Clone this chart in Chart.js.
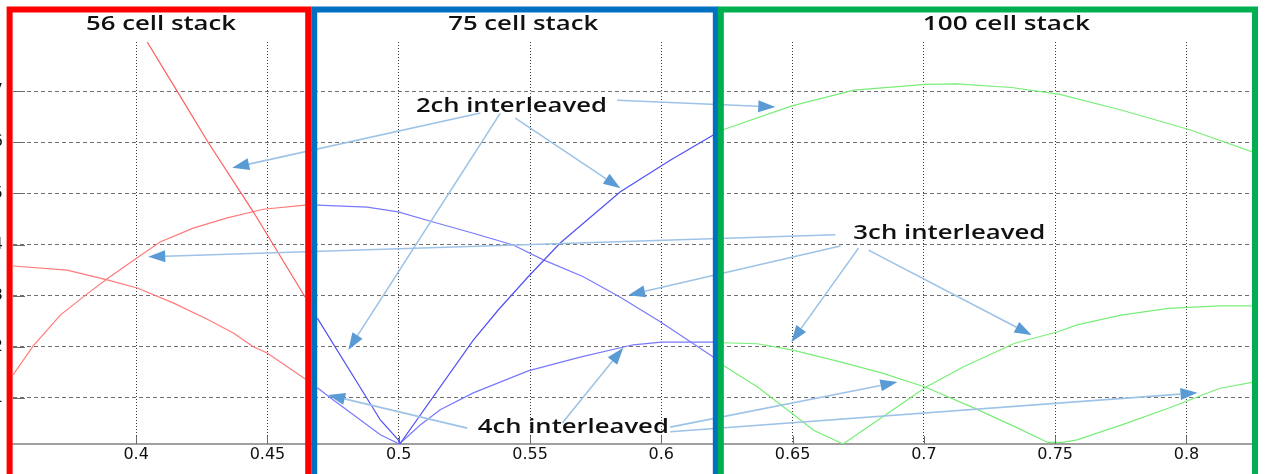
<!DOCTYPE html>
<html>
<head>
<meta charset="utf-8">
<script src="https://cdn.jsdelivr.net/npm/chart.js@4.4.1/dist/chart.umd.min.js"></script>
<style>
  html, body { margin: 0; padding: 0; background: #fff; }
  #wrap { width: 1266px; height: 474px; }
</style>
</head>
<body>
<div id="wrap"><canvas id="grafica" width="1266" height="474"></canvas></div>
<script>
// Ejes
const xMin = 0.3531, xMax = 0.8261;
const yMin = 0.1, yMax = 7.96;
const xTicks = [0.4, 0.45, 0.5, 0.55, 0.6, 0.65, 0.7, 0.75, 0.8];
const xTickLabels = ['0.4', '0.45', '0.5', '0.55', '0.6', '0.65', '0.7', '0.75', '0.8'];
const yTicks = [1, 2, 3, 4, 5, 6, 7];
const yTickLabels = ['1', '2', '3', '4', '5', '6', '7'];

// 56 cell stack
const red2chX = [0.4042, 0.4156, 0.4274, 0.4446, 0.4644];
const red2chY = [7.96, 7.0, 6.0, 4.64, 2.97];
const red3chX = [0.3531, 0.3608, 0.3711, 0.3817, 0.3890, 0.4004, 0.4091, 0.4217, 0.4347, 0.4484, 0.4644];
const red3chY = [1.45, 2.02, 2.62, 3.05, 3.33, 3.74, 4.05, 4.32, 4.52, 4.69, 4.77];
const red4chX = [0.3531, 0.3737, 0.3890, 0.4004, 0.4141, 0.4271, 0.4370, 0.4446, 0.4499, 0.4644];
const red4chY = [3.58, 3.50, 3.31, 3.15, 2.86, 2.54, 2.27, 2.0, 1.88, 1.37];

// 75 cell stack
const blue2chX = [0.4690, 0.4930, 0.4998, 0.5004, 0.5284, 0.5379, 0.5493, 0.5615, 0.5844, 0.6034, 0.6198];
const blue2chY = [2.56, 0.57, 0.18, 0.10, 2.13, 2.72, 3.37, 4.03, 5.03, 5.65, 6.14];
const blue3chX = [0.4690, 0.4880, 0.4998, 0.5131, 0.5284, 0.5436, 0.5551, 0.5703, 0.5844, 0.5996, 0.6198];
const blue3chY = [4.77, 4.73, 4.64, 4.44, 4.22, 3.99, 3.70, 3.37, 2.97, 2.49, 1.80];
const blue4chX = [0.4690, 0.4751, 0.4930, 0.5002, 0.5082, 0.5158, 0.5284, 0.5493, 0.5691, 0.5893, 0.6000, 0.6198];
const blue4chY = [1.20, 0.96, 0.28, 0.10, 0.47, 0.77, 1.10, 1.53, 1.80, 2.04, 2.09, 2.09];

// 100 cell stack
const green2chX = [0.6232, 0.6497, 0.6734, 0.7007, 0.7124, 0.7333, 0.7514, 0.7751, 0.8015, 0.8273];
const green2chY = [6.24, 6.71, 7.02, 7.13, 7.14, 7.07, 6.94, 6.63, 6.24, 5.77];
const green3chX = [0.6232, 0.6365, 0.6497, 0.6580, 0.6692, 0.6845, 0.7007, 0.7151, 0.7346, 0.7514, 0.7583, 0.7751, 0.7931, 0.8127, 0.8300];
const green3chY = [1.65, 1.22, 0.70, 0.37, 0.10, 0.64, 1.21, 1.61, 2.07, 2.30, 2.43, 2.62, 2.75, 2.80, 2.80];
const green4chX = [0.6232, 0.6365, 0.6497, 0.6678, 0.6845, 0.7007, 0.7179, 0.7346, 0.7472, 0.7528, 0.7583, 0.7751, 0.7931, 0.8127, 0.8300];
const green4chY = [2.08, 2.06, 1.94, 1.71, 1.48, 1.21, 0.83, 0.44, 0.13, 0.13, 0.18, 0.47, 0.80, 1.19, 1.35];

// Marcos de cada stack (en unidades del eje x)
const paneles = [
  { x0: 0.35181, x1: 0.46552, color: '#ff0000', titulo: '56 cell stack', tx: 0.4095, ancho: 150 },
  { x0: 0.46781, x1: 0.62076, color: '#0070c0', titulo: '75 cell stack', tx: 0.5474, ancho: 150 },
  { x0: 0.62267, x1: 0.82610, color: '#00b050', titulo: '100 cell stack', tx: 0.7314, ancho: 167 }
];

// Textos y flechas de anotacion (unidades de datos)
const notas = [
  { texto: '2ch interleaved', x: 0.5429, y: 6.59, ancho: 191 },
  { texto: '3ch interleaved', x: 0.7097, y: 4.11, ancho: 192 },
  { texto: '4ch interleaved', x: 0.5665, y: 0.31, ancho: 191 }
];
const flechas = [
  [0.5311, 6.57, 0.4366, 5.50],
  [0.5387, 6.57, 0.4808, 1.94],
  [0.5444, 6.47, 0.5844, 5.10],
  [0.5832, 6.82, 0.6434, 6.69],
  [0.6663, 4.19, 0.4046, 3.76],
  [0.6682, 3.97, 0.5874, 3.01],
  [0.6751, 3.93, 0.6495, 2.09],
  [0.6789, 3.89, 0.7410, 2.23],
  [0.5261, 0.41, 0.4731, 1.06],
  [0.5623, 0.51, 0.5855, 1.98],
  [0.6034, 0.43, 0.6899, 1.31],
  [0.6034, 0.34, 0.8042, 1.10]
];

const pts = (xs, ys) => xs.map((x, i) => ({ x: x, y: ys[i] }));
const serie = (label, xs, ys, color) => ({
  label: label,
  data: pts(xs, ys),
  borderColor: color,
  borderWidth: 1.2,
  pointRadius: 0,
  fill: false,
  tension: 0
});

function flecha(ctx, x1, y1, x2, y2) {
  const ang = Math.atan2(y2 - y1, x2 - x1);
  const len = 17, half = 6;
  const bx = x2 - len * Math.cos(ang), by = y2 - len * Math.sin(ang);
  ctx.strokeStyle = '#9dc3e6';
  ctx.lineWidth = 1.6;
  ctx.beginPath(); ctx.moveTo(x1, y1); ctx.lineTo(bx, by); ctx.stroke();
  ctx.fillStyle = '#5b9bd5';
  ctx.beginPath();
  ctx.moveTo(x2, y2);
  ctx.lineTo(bx - half * Math.sin(ang), by + half * Math.cos(ang));
  ctx.lineTo(bx + half * Math.sin(ang), by - half * Math.cos(ang));
  ctx.closePath(); ctx.fill();
}

// texto estirado en horizontal como en la imagen original
function texto(ctx, str, cx, by, font, ancho) {
  ctx.save();
  ctx.font = font;
  const w = ctx.measureText(str).width;
  ctx.translate(cx, by);
  ctx.scale(ancho / w, 1);
  ctx.textAlign = 'center';
  ctx.textBaseline = 'alphabetic';
  ctx.fillStyle = '#111';
  ctx.fillText(str, 0, 0);
  ctx.restore();
}

const decoraciones = {
  id: 'decoraciones',
  afterDatasetsDraw(chart) {
    const { ctx, chartArea: a, scales: { x, y } } = chart;
    ctx.save();
    // marcas solidas de los ejes hacia dentro
    ctx.strokeStyle = '#6a6a6a';
    ctx.lineWidth = 1;
    yTicks.forEach(v => {
      const py = Math.round(y.getPixelForValue(v)) + 0.5;
      ctx.beginPath(); ctx.moveTo(a.left, py); ctx.lineTo(a.left + 12, py); ctx.stroke();
    });
    xTicks.forEach(v => {
      const px = Math.round(x.getPixelForValue(v)) + 0.5;
      ctx.beginPath(); ctx.moveTo(px, a.bottom); ctx.lineTo(px, a.bottom - 8); ctx.stroke();
    });
    flechas.forEach(f => flecha(ctx, x.getPixelForValue(f[0]), y.getPixelForValue(f[1]),
      x.getPixelForValue(f[2]), y.getPixelForValue(f[3])));
    notas.forEach(n => texto(ctx, n.texto, x.getPixelForValue(n.x), y.getPixelForValue(n.y),
      '600 19px "Open Sans"', n.ancho));
    ctx.restore();
  },
  afterDraw(chart) {
    const { ctx, chartArea: a, scales: { x } } = chart;
    ctx.save();
    ctx.lineWidth = 6;
    paneles.forEach(p => {
      const px0 = x.getPixelForValue(p.x0), px1 = x.getPixelForValue(p.x1);
      ctx.strokeStyle = p.color;
      ctx.strokeRect(px0, a.top - 32.5, px1 - px0, 500);
    });
    paneles.forEach(p => texto(ctx, p.titulo, x.getPixelForValue(p.tx), a.top - 12,
      '600 19px "Open Sans"', p.ancho));
    ctx.restore();
  }
};

const miCanvas = document.getElementById('grafica').getContext('2d');

const chart = new Chart(miCanvas, {
  type: 'line',
  data: {
    datasets: [
      serie('56 cell 2ch', red2chX, red2chY, '#ff5f5f'),
      serie('56 cell 3ch', red3chX, red3chY, '#ff7a7a'),
      serie('56 cell 4ch', red4chX, red4chY, '#ff7a7a'),
      serie('75 cell 2ch', blue2chX, blue2chY, '#5050f5'),
      serie('75 cell 3ch', blue3chX, blue3chY, '#7878ff'),
      serie('75 cell 4ch', blue4chX, blue4chY, '#7878ff'),
      serie('100 cell 2ch', green2chX, green2chY, '#78ee78'),
      serie('100 cell 3ch', green3chX, green3chY, '#78ee78'),
      serie('100 cell 4ch', green4chX, green4chY, '#78ee78')
    ]
  },
  options: {
    responsive: false,
    animation: false,
    layout: { padding: { top: 42, right: 11, left: 0, bottom: 0 } },
    plugins: {
      legend: { display: false },
      tooltip: { enabled: false }
    },
    scales: {
      x: {
        type: 'linear',
        min: xMin,
        max: xMax,
        afterBuildTicks: s => { s.ticks = xTicks.map(v => ({ value: v })); },
        afterFit: s => { s.height = 30; },
        grid: { color: '#3c3c3c', lineWidth: 1, drawTicks: false },
        border: { display: true, color: '#a0a0a0', width: 2, dash: [1, 2] },
        ticks: {
          padding: 1,
          color: '#111',
          maxRotation: 0,
          autoSkip: false,
          font: { family: 'DejaVu Sans', size: 16 },
          callback: (v, i) => xTickLabels[i]
        }
      },
      y: {
        type: 'linear',
        min: yMin,
        max: yMax,
        afterBuildTicks: s => { s.ticks = yTicks.map(v => ({ value: v })); },
        afterFit: s => { s.width = 13; },
        grid: { color: '#707070', lineWidth: 1, drawTicks: false },
        border: { display: false, dash: [4, 3] },
        ticks: {
          padding: 10,
          color: '#111',
          font: { family: 'DejaVu Sans', size: 16 },
          callback: (v, i) => yTickLabels[i]
        }
      }
    }
  },
  plugins: [decoraciones]
});
</script>
</body>
</html>
